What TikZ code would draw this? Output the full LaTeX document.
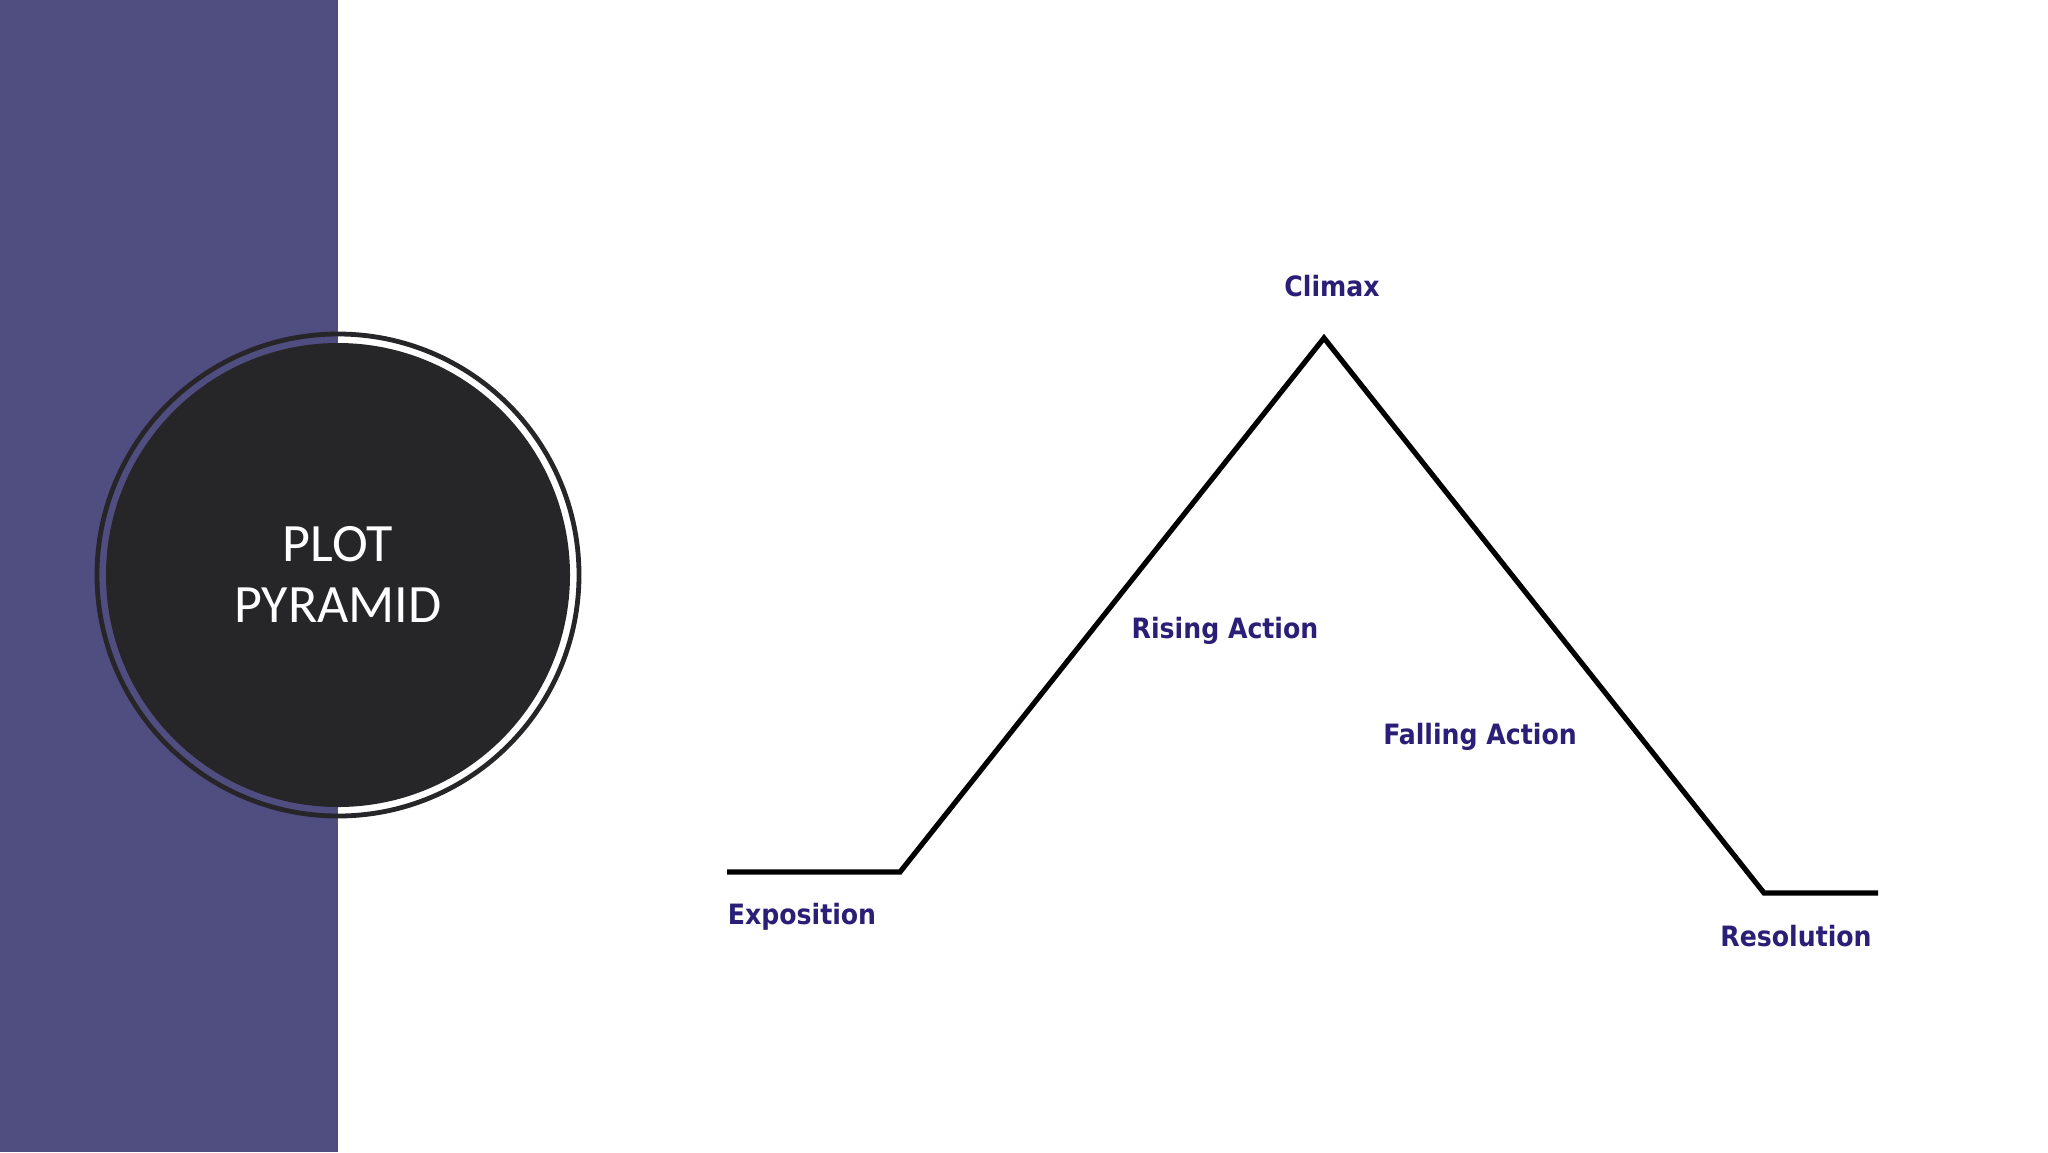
\documentclass[tikz,border=0pt]{standalone}
\usepackage{fontspec}
\setmainfont{DejaVu Sans}
\newfontfamily\labelfont{DejaVu Sans Condensed}
\newfontfamily\titlefont{Carlito}
\definecolor{sidebar}{RGB}{80,78,128}
\definecolor{disc}{RGB}{38,37,40}
\definecolor{labelnavy}{RGB}{42,30,118}
\tikzset{
  plotlabel/.style={font=\labelfont\bfseries\fontsize{14}{17}\selectfont, text=labelnavy, inner sep=0pt, anchor=center},
  plotline/.style={line width=2.6pt, black, line join=miter},
}
\begin{document}
\begin{tikzpicture}[x=0.5pt,y=-0.5pt]
\useasboundingbox (0,0) rectangle (2048,1152);
\fill[white] (0,0) rectangle (2048,1152);
\fill[sidebar] (0,0) rectangle (338,1152);
% circle
\fill[disc] (338,575) circle (232);
\draw[disc, line width=2.4pt] (338,575) circle (241);
\node[font=\titlefont\fontsize{27}{30.5}\selectfont, text=white, align=center, inner sep=0pt] (title) at (338,574) {PLOT\\PYRAMID};
% plot line points
\coordinate (e0) at (727,872);
\coordinate (e1) at (900,872);
\coordinate (peak) at (1324,338);
\coordinate (r0) at (1764,893);
\coordinate (r1) at (1878,893);
\draw[plotline] (e0) -- (e1) -- (peak) -- (r0) -- (r1);
% labels
\node[plotlabel] (climax) at (1332,286) {Climax};
\node[plotlabel] (rising) at (1225,631) {Rising Action};
\node[plotlabel] (falling) at (1480,737) {Falling Action};
\node[plotlabel] (expo) at (802,917) {Exposition};
\node[plotlabel] (resol) at (1796,936) {Resolution};
\end{tikzpicture}
\end{document}
